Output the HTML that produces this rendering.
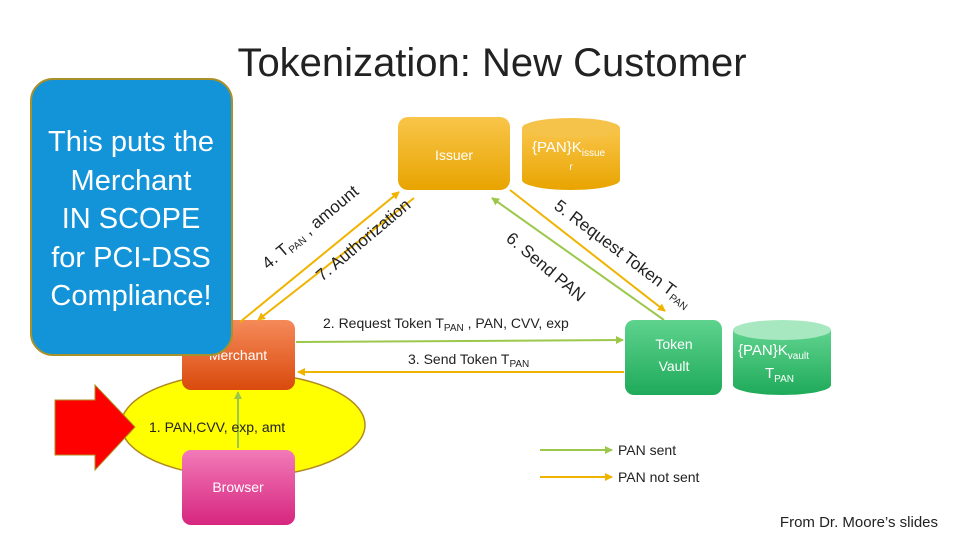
<!DOCTYPE html>
<html><head><meta charset="utf-8"><style>
html,body{margin:0;padding:0;background:#fff;}
svg{display:block;font-family:"Liberation Sans",sans-serif;}
</style></head><body>
<svg width="960" height="540" viewBox="0 0 960 540" xmlns="http://www.w3.org/2000/svg">
<defs>
<linearGradient id="og" x1="0" y1="0" x2="0" y2="1"><stop offset="0" stop-color="#f9c54a"/><stop offset="1" stop-color="#e8a400"/></linearGradient>
<linearGradient id="mg" x1="0" y1="0" x2="0" y2="1"><stop offset="0" stop-color="#f58a5a"/><stop offset="1" stop-color="#d94a0c"/></linearGradient>
<linearGradient id="bg" x1="0" y1="0" x2="0" y2="1"><stop offset="0" stop-color="#f27ab8"/><stop offset="1" stop-color="#d6267f"/></linearGradient>
<linearGradient id="gg" x1="0" y1="0" x2="0" y2="1"><stop offset="0" stop-color="#5fd38e"/><stop offset="1" stop-color="#1faa5a"/></linearGradient>
<marker id="ao" markerWidth="8" markerHeight="8" refX="7" refY="4" orient="auto" markerUnits="userSpaceOnUse"><path d="M0,0 L8,4 L0,8z" fill="#f0b400"/></marker>
<marker id="ag" markerWidth="8" markerHeight="8" refX="7" refY="4" orient="auto" markerUnits="userSpaceOnUse"><path d="M0,0 L8,4 L0,8z" fill="#9bc84a"/></marker>
</defs>

<text x="492" y="76" font-size="40" text-anchor="middle" fill="#222">Tokenization: New Customer</text>

<!-- ellipse -->
<ellipse cx="243" cy="425" rx="122" ry="52" fill="#ffff00" stroke="#b08a20" stroke-width="1.5"/>
<!-- red arrow -->
<path d="M55,400 L95,400 L95,385 L135,427 L95,470 L95,455 L55,455 Z" fill="#ff0000" stroke="#b08a20" stroke-width="1"/>

<!-- Issuer -->
<rect x="398" y="117" width="112" height="73" rx="10" fill="url(#og)"/>
<text x="454" y="160" font-size="14" fill="#fff" text-anchor="middle">Issuer</text>
<!-- issuer cylinder -->
<path d="M522,128 L522,180 A49,10 0 0 0 620,180 L620,128 Z" fill="url(#og)"/>
<ellipse cx="571" cy="128" rx="49" ry="10" fill="#f5c24a"/>
<text x="532" y="152" font-size="15" fill="#fff">{PAN}K<tspan font-size="10" dy="4">issue</tspan></text>
<text x="571" y="170" font-size="10" fill="#fff" text-anchor="middle">r</text>

<!-- Merchant -->
<rect x="182" y="320" width="113" height="70" rx="9" fill="url(#mg)"/>
<text x="238" y="360" font-size="14" fill="#fff" text-anchor="middle">Merchant</text>
<!-- Browser -->
<rect x="182" y="450" width="113" height="75" rx="9" fill="url(#bg)"/>
<text x="238" y="492" font-size="14" fill="#fff" text-anchor="middle">Browser</text>
<!-- Token vault -->
<rect x="625" y="320" width="97" height="75" rx="9" fill="url(#gg)"/>
<text x="674" y="349" font-size="14" fill="#fff" text-anchor="middle">Token</text>
<text x="674" y="371" font-size="14" fill="#fff" text-anchor="middle">Vault</text>
<!-- vault cylinder -->
<path d="M733,330 L733,385 A49,10 0 0 0 831,385 L831,330 Z" fill="url(#gg)"/>
<ellipse cx="782" cy="330" rx="49" ry="10" fill="#a8e8c0"/>
<text x="738" y="355" font-size="15" fill="#fff">{PAN}K<tspan font-size="10" dy="4">vault</tspan></text>
<text x="765" y="378" font-size="15" fill="#fff">T<tspan font-size="10" dy="4">PAN</tspan></text>

<!-- connectors -->
<line x1="238" y1="448" x2="238" y2="392" stroke="#9bc84a" stroke-width="2" marker-end="url(#ag)"/>
<line x1="296" y1="342" x2="623" y2="340" stroke="#9bc84a" stroke-width="2" marker-end="url(#ag)"/>
<line x1="624" y1="372" x2="298" y2="372" stroke="#f0b400" stroke-width="2" marker-end="url(#ao)"/>
<line x1="240" y1="322" x2="399" y2="192" stroke="#f0b400" stroke-width="2" marker-end="url(#ao)"/>
<line x1="414" y1="198" x2="258" y2="320" stroke="#f0b400" stroke-width="2" marker-end="url(#ao)"/>
<line x1="664" y1="320" x2="492" y2="198" stroke="#9bc84a" stroke-width="2" marker-end="url(#ag)"/>
<line x1="510" y1="190" x2="665" y2="311" stroke="#f0b400" stroke-width="2" marker-end="url(#ao)"/>

<!-- rotated labels -->
<text transform="translate(268,270) rotate(-40)" font-size="17" fill="#222">4. T<tspan font-size="10" dy="3">PAN</tspan><tspan dy="-3"> , amount</tspan></text>
<text transform="translate(322,282) rotate(-40)" font-size="17" fill="#222">7. Authorization</text>
<text transform="translate(553,208) rotate(37)" font-size="17" fill="#222">5. Request Token T<tspan font-size="10" dy="3">PAN</tspan></text>
<text transform="translate(505,240) rotate(40)" font-size="17" fill="#222">6. Send PAN</text>

<text x="323" y="328" font-size="14" fill="#222">2. Request Token T<tspan font-size="10" dy="3">PAN</tspan><tspan dy="-3"> , PAN, CVV, exp</tspan></text>
<text x="408" y="364" font-size="14" fill="#222">3. Send Token T<tspan font-size="10" dy="3">PAN</tspan></text>
<text x="149" y="432" font-size="14" fill="#222">1. PAN,CVV, exp, amt</text>

<!-- legend -->
<line x1="540" y1="450" x2="612" y2="450" stroke="#9bc84a" stroke-width="2" marker-end="url(#ag)"/>
<text x="618" y="455" font-size="14" fill="#222">PAN sent</text>
<line x1="540" y1="477" x2="612" y2="477" stroke="#f0b400" stroke-width="2" marker-end="url(#ao)"/>
<text x="618" y="482" font-size="14" fill="#222">PAN not sent</text>

<text x="938" y="527" font-size="15" fill="#222" text-anchor="end">From Dr. Moore’s slides</text>

<!-- blue box -->
<rect x="31" y="79" width="201" height="276" rx="22" fill="#1393d8" stroke="#a8902a" stroke-width="2"/>
<g font-size="29" fill="#fff" text-anchor="middle">
<text x="131" y="151">This puts the</text>
<text x="131" y="190">Merchant</text>
<text x="131" y="228">IN SCOPE</text>
<text x="131" y="267">for PCI-DSS</text>
<text x="131" y="305">Compliance!</text>
</g>
</svg>
</body></html>
